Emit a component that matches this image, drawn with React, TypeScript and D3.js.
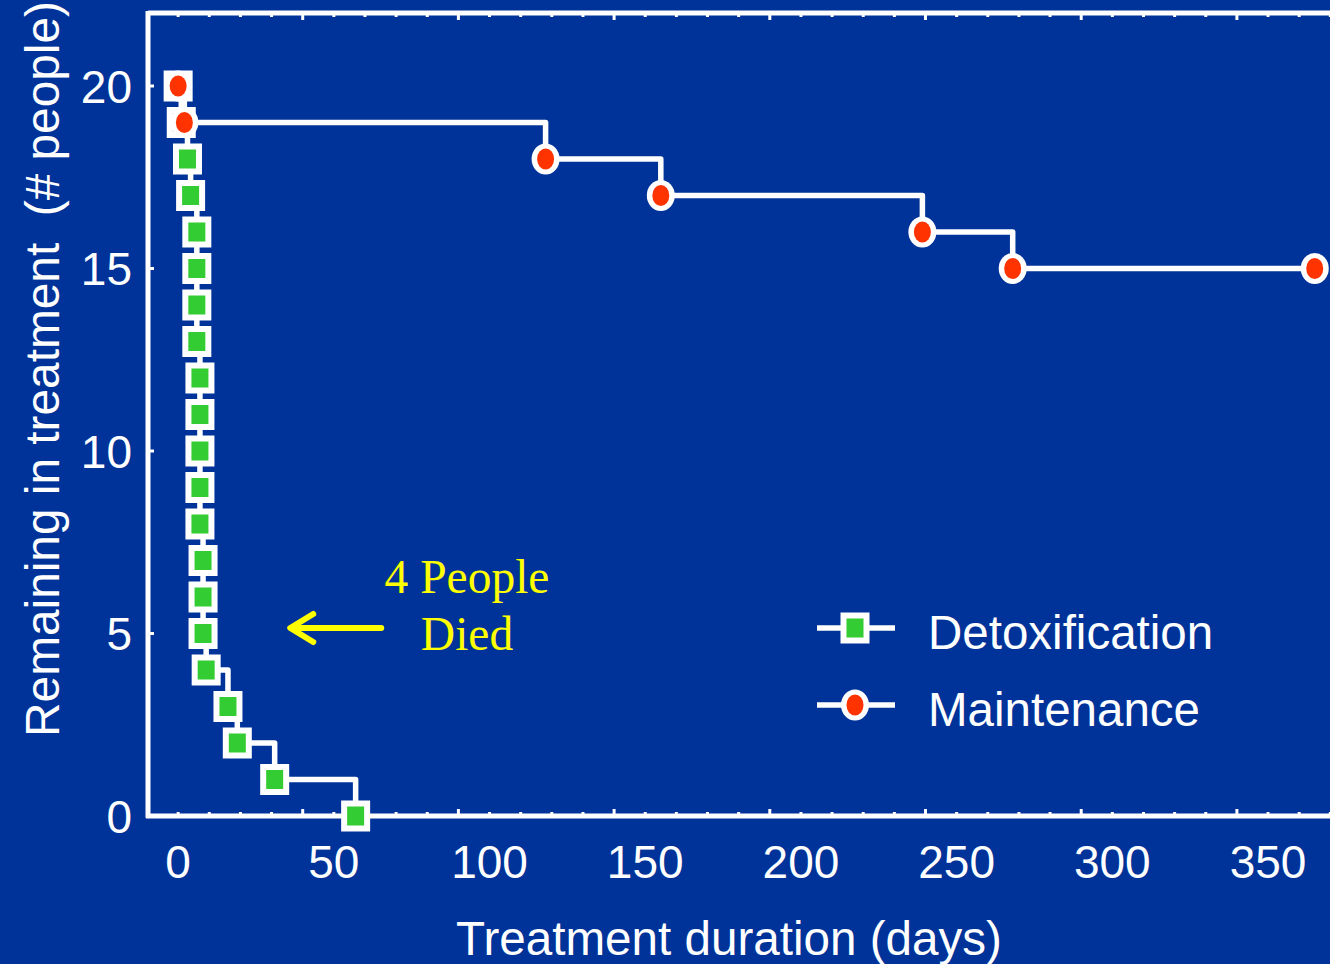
import React from "react";
import * as d3 from "d3";

// Kaplan–Meier style retention curves: people remaining in treatment by day
const detoxDays = [0, 1, 3, 4, 6, 6, 6, 6, 7, 7, 7, 7, 7, 8, 8, 8, 9, 16, 19, 31, 57];
const detoxRemaining = [20, 19, 18, 17, 16, 15, 14, 13, 12, 11, 10, 9, 8, 7, 6, 5, 4, 3, 2, 1, 0];

const maintDays = [0, 2, 118, 155, 239, 268, 365];
const maintRemaining = [20, 19, 18, 17, 16, 15, 15];

const xTickValues = [0, 50, 100, 150, 200, 250, 300, 350];
const yTickValues = [0, 5, 10, 15, 20];
const xMinorTicks = d3.range(0, 371, 10);

const seriesNames = ["Detoxification", "Maintenance"];
const annotationLines = ["4 People", "Died"];

const W = 1330;
const H = 964;
const BG = "#003399";
const GREEN = "#33CC33";
const RED = "#FF3300";
const YELLOW = "#FFFF00";
const SANS = "'Liberation Sans', Arial, Helvetica, sans-serif";
const SERIF = "'Liberation Serif', 'Times New Roman', serif";

const x = d3.scaleLinear().domain([-10, 375]).range([147, 147 + 385 * 3.114]);
const y = d3.scaleLinear().domain([0, 22]).range([816, 13]);

type Pt = { d: number; n: number };
const detox: Pt[] = detoxDays.map((d, i) => ({ d, n: detoxRemaining[i] }));
const maint: Pt[] = maintDays.map((d, i) => ({ d, n: maintRemaining[i] }));

const stepLine = d3
  .line<Pt>()
  .x((p) => x(p.d))
  .y((p) => y(p.n))
  .curve(d3.curveStepAfter);

function SquareMarker({ cx, cy }: { cx: number; cy: number }) {
  return (
    <g>
      <rect x={cx - 14.5} y={cy - 15.5} width={29} height={31} fill="#fff" />
      <rect x={cx - 8.5} y={cy - 9.5} width={17} height={19} fill={GREEN} />
    </g>
  );
}

function CircleMarker({ cx, cy }: { cx: number; cy: number }) {
  return (
    <g>
      <ellipse cx={cx} cy={cy} rx={14} ry={15.5} fill="#fff" />
      <ellipse cx={cx} cy={cy} rx={8.5} ry={10.5} fill={RED} />
    </g>
  );
}

export default function App() {
  const left = x.range()[0] + 1;
  const bottom = y(0);
  const top = y.range()[1];

  const arrowTipX = x(36);
  const arrowY = y(5.15);

  return (
    <svg
      width={W}
      height={H}
      viewBox={`0 0 ${W} ${H}`}
      style={{ position: "fixed", left: 0, top: 0, display: "block" }}
    >
      <rect x={0} y={0} width={W} height={H} fill={BG} />

      {/* frame */}
      <g stroke="#fff" strokeWidth={5} fill="none">
        <line x1={left} y1={top - 2} x2={left} y2={bottom + 2} />
        <line x1={left - 2} y1={bottom} x2={W + 5} y2={bottom} />
        <line x1={left} y1={top} x2={W + 5} y2={top} />
      </g>

      {/* inward ticks */}
      <g stroke="#fff" strokeWidth={3}>
        {xMinorTicks.map((t) => {
          const len = (t - 40) % 50 === 0 ? 7 : 4;
          return (
            <g key={`xt${t}`}>
              <line x1={x(t)} x2={x(t)} y1={bottom} y2={bottom - len} />
              <line x1={x(t)} x2={x(t)} y1={top} y2={top + len} />
            </g>
          );
        })}
        {yTickValues
          .filter((t) => t > 0)
          .map((t) => (
            <line key={`yt${t}`} x1={left} x2={left + 6} y1={y(t)} y2={y(t)} />
          ))}
      </g>

      {/* tick labels */}
      <g fill="#fff" fontFamily={SANS} fontSize={46}>
        {xTickValues.map((t) => (
          <text key={`xl${t}`} x={x(t)} y={878} textAnchor="middle">
            {t}
          </text>
        ))}
        {yTickValues.map((t) => (
          <text key={`yl${t}`} x={132} y={y(t)} dy="0.36em" textAnchor="end">
            {t}
          </text>
        ))}
      </g>

      {/* axis titles */}
      <text
        x={729}
        y={955}
        textAnchor="middle"
        fill="#fff"
        fontFamily={SANS}
        fontSize={47.6}
      >
        Treatment duration (days)
      </text>
      <text
        transform={`translate(59, 369) rotate(-90)`}
        textAnchor="middle"
        fill="#fff"
        fontFamily={SANS}
        fontSize={47.8}
        style={{ whiteSpace: "pre" }}
      >
        {"Remaining in treatment  (# people)"}
      </text>

      {/* detoxification curve */}
      <path d={stepLine(detox) ?? ""} fill="none" stroke="#fff" strokeWidth={5.5} strokeLinejoin="round" />
      {detox.map((p, i) => (
        <SquareMarker key={`dm${i}`} cx={x(p.d)} cy={y(p.n)} />
      ))}

      {/* maintenance curve */}
      <path d={stepLine(maint) ?? ""} fill="none" stroke="#fff" strokeWidth={5.5} strokeLinejoin="round" />
      {maint.map((p, i) => (
        <CircleMarker key={`mm${i}`} cx={x(p.d)} cy={y(p.n)} />
      ))}

      {/* annotation */}
      <g stroke={YELLOW} strokeWidth={6} strokeLinecap="round" strokeLinejoin="round" fill="none">
        <line x1={arrowTipX + 91} y1={arrowY} x2={arrowTipX + 2} y2={arrowY} />
        <polyline
          points={`${arrowTipX + 23},${arrowY - 14} ${arrowTipX},${arrowY} ${arrowTipX + 23},${arrowY + 14}`}
        />
      </g>
      <g fill={YELLOW} fontFamily={SERIF} fontSize={47.5} textAnchor="middle">
        <text x={467} y={593}>
          {annotationLines[0]}
        </text>
        <text x={467} y={650}>
          {annotationLines[1]}
        </text>
      </g>

      {/* legend */}
      <g>
        <line x1={817} x2={895} y1={628} y2={628} stroke="#fff" strokeWidth={5.5} />
        <SquareMarker cx={855} cy={628} />
        <text x={928} y={632} dy="0.36em" fill="#fff" fontFamily={SANS} fontSize={47.5}>
          {seriesNames[0]}
        </text>
        <line x1={817} x2={895} y1={705} y2={705} stroke="#fff" strokeWidth={5.5} />
        <CircleMarker cx={855} cy={705} />
        <text x={928} y={709} dy="0.36em" fill="#fff" fontFamily={SANS} fontSize={47.5}>
          {seriesNames[1]}
        </text>
      </g>
    </svg>
  );
}
